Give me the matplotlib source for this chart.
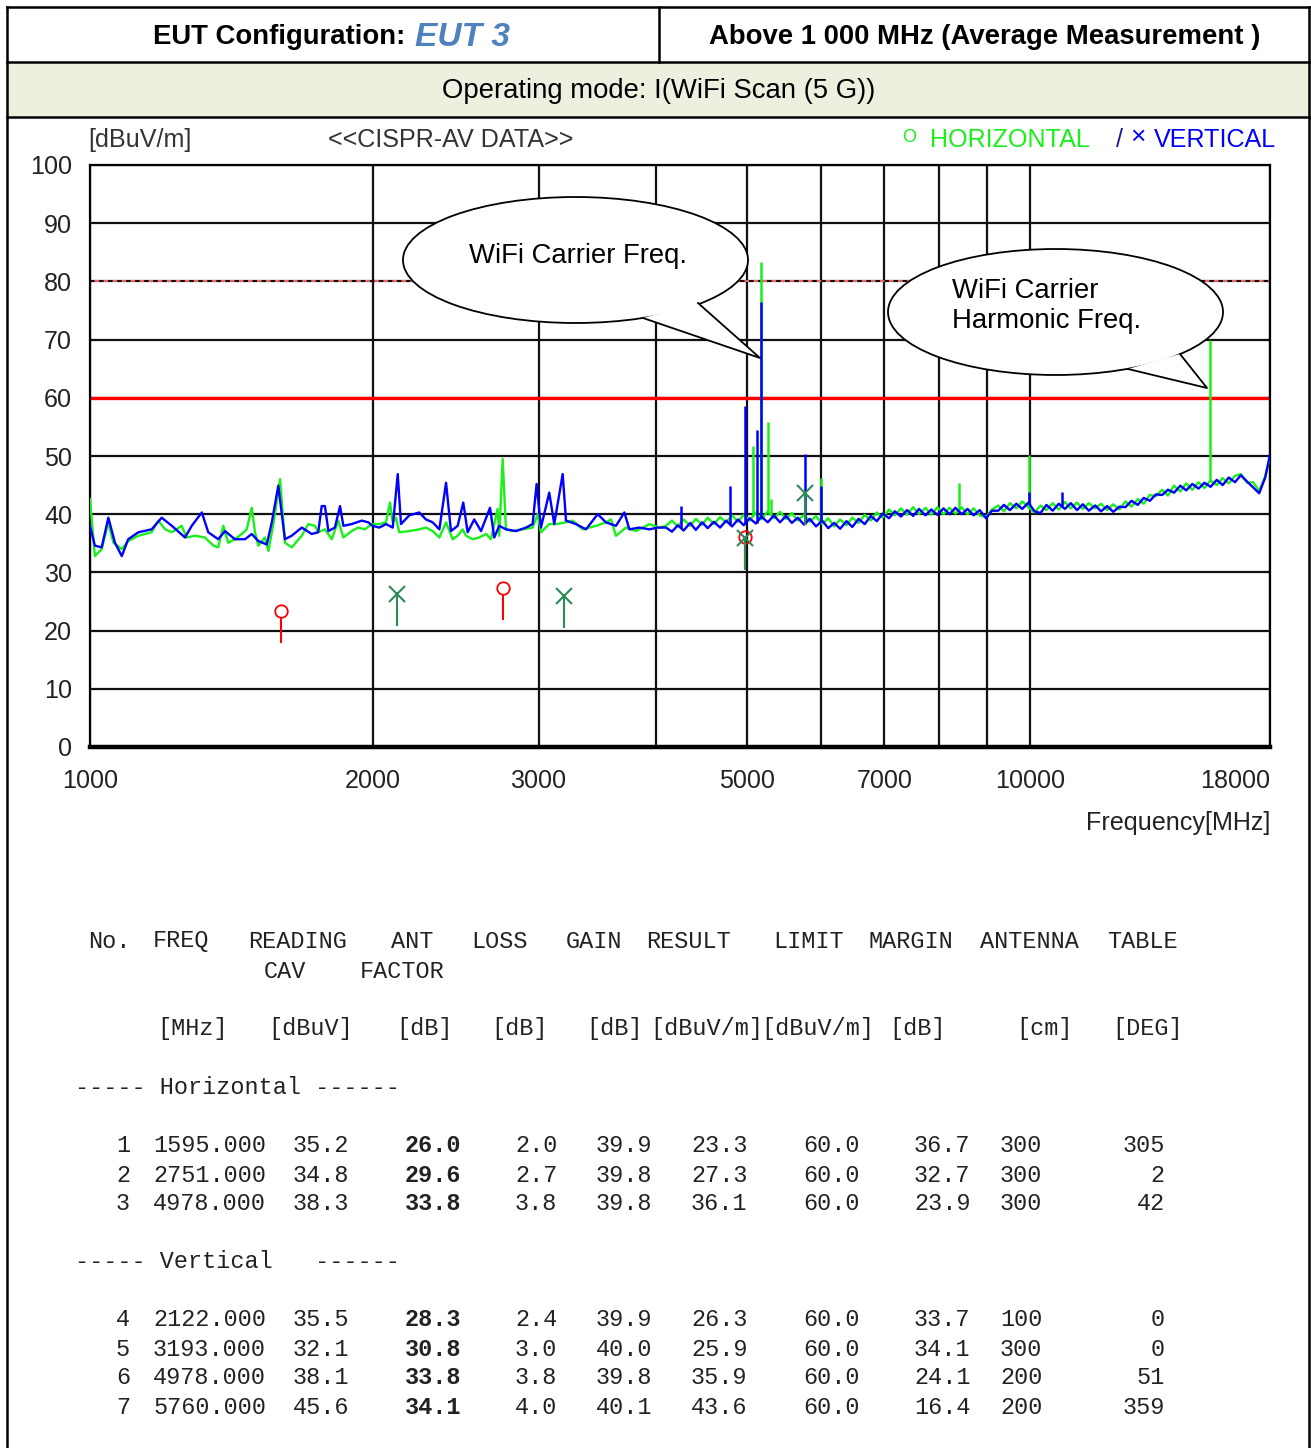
import numpy as np
import matplotlib
matplotlib.use("Agg")
import matplotlib.pyplot as plt
from matplotlib import font_manager
from matplotlib.patches import Ellipse, Polygon, Rectangle
from matplotlib.lines import Line2D
from matplotlib.ticker import FixedLocator, NullFormatter

W, H = 1311, 1448

# --- sweep traces (MHz / dBuV/m) ---
# horizontal (green), 1 - 4.1 GHz
h_freq = [1000, 1012, 1029, 1046, 1059, 1081, 1098, 1126, 1163, 1182, 1202, 1222, 1252, 1267, 1293,
          1325, 1353, 1369, 1386, 1403, 1426, 1450, 1468, 1486, 1498, 1510, 1535, 1548, 1567, 1593,
          1612, 1639, 1680, 1707, 1735, 1749, 1778, 1808, 1837, 1860, 1898, 1929, 1961, 1994, 2031,
          2065, 2085, 2099, 2116, 2133, 2186, 2240, 2277, 2315, 2353, 2392, 2431, 2461, 2491, 2512,
          2553, 2595, 2638, 2670, 2714, 2725, 2748, 2770, 2816, 2886, 2957, 2994, 3018, 3080, 3131,
          3209, 3262, 3343, 3454, 3539, 3583, 3627, 3717, 3809, 3936, 4033, 4100]
h_level = [42.6, 32.8, 34.0, 38.6, 35.1, 34.0, 35.4, 36.3, 36.9, 38.9, 37.4, 36.9, 38.0, 36.0, 36.3,
           36.0, 34.6, 34.3, 38.0, 35.1, 35.7, 36.6, 37.4, 41.1, 36.9, 34.6, 36.0, 33.7, 38.3, 46.0,
           35.1, 34.3, 36.3, 38.3, 38.0, 36.9, 37.4, 35.7, 38.9, 36.0, 37.1, 37.7, 37.4, 38.3, 38.3,
           38.6, 42.0, 38.6, 39.4, 36.9, 37.1, 37.4, 37.7, 37.1, 36.0, 38.6, 35.7, 36.3, 37.4, 36.3,
           35.7, 36.0, 36.6, 35.7, 40.9, 36.3, 49.5, 37.4, 37.1, 37.4, 37.7, 40.0, 36.9, 38.3, 38.3,
           38.6, 38.9, 37.4, 38.0, 38.6, 39.1, 36.3, 37.7, 37.1, 38.3, 37.7, 38.0]

# vertical (blue), 1 - 4.1 GHz
v_freq = [1000, 1012, 1029, 1046, 1063, 1081, 1098, 1126, 1163, 1192, 1222, 1262, 1283, 1315, 1336,
          1369, 1392, 1426, 1462, 1486, 1510, 1542, 1561, 1586, 1612, 1639, 1680, 1721, 1749, 1764,
          1778, 1793, 1822, 1845, 1860, 1898, 1946, 1977, 1998, 2031, 2065, 2099, 2125, 2142, 2186,
          2240, 2277, 2315, 2353, 2392, 2421, 2461, 2495, 2522, 2563, 2606, 2664, 2692, 2725, 2770,
          2839, 2909, 2957, 2986, 3018, 3080, 3118, 3183, 3209, 3288, 3370, 3468, 3539, 3627, 3702,
          3748, 3841, 3936, 4017, 4100]
v_level = [38.0, 34.6, 34.3, 39.4, 35.1, 32.8, 35.7, 36.9, 37.4, 39.4, 38.0, 36.0, 38.0, 40.3, 36.9,
           35.7, 37.1, 35.7, 35.7, 36.6, 35.4, 34.8, 38.6, 44.9, 35.7, 36.3, 37.7, 36.6, 36.9, 41.4,
           41.4, 37.1, 37.7, 41.4, 38.0, 38.3, 38.9, 38.6, 38.0, 37.7, 38.3, 37.7, 46.9, 38.3, 39.8,
           40.3, 39.1, 38.6, 37.4, 45.4, 37.1, 38.0, 42.0, 36.9, 39.1, 37.1, 41.1, 36.0, 38.0, 37.4,
           37.1, 37.7, 38.3, 45.2, 37.7, 43.7, 38.3, 46.9, 38.9, 38.3, 37.4, 40.0, 38.6, 38.0, 40.3,
           37.4, 37.7, 37.4, 37.7, 37.7]

# 4.1 - 18 GHz, both polarisations on the same frequency points
hf_freq = [4160, 4220, 4280, 4350, 4410, 4480, 4540, 4610, 4680, 4750, 4820, 4890, 4960, 5030, 5110,
           5180, 5260, 5340, 5420, 5500, 5580, 5660, 5750, 5830, 5920, 6010, 6100, 6190, 6280, 6380,
           6470, 6570, 6670, 6770, 6870, 6970, 7080, 7180, 7290, 7400, 7510, 7620, 7740, 7850, 7970,
           8090, 8210, 8330, 8460, 8580, 8710, 8840, 8980, 9110, 9250, 9380, 9520, 9670, 9810, 9960,
           10110, 10260, 10410, 10570, 10730, 10890, 11050, 11220, 11380, 11550, 11730, 11900, 12080,
           12260, 12450, 12630, 12820, 13020, 13210, 13410, 13610, 13820, 14020, 14230, 14450, 14660,
           14880, 15110, 15330, 15560, 15800, 16030, 16270, 16520, 16760, 17020, 17270, 17530, 17790,
           18000]
hf_h = [38.9, 37.9, 39.1, 38.0, 39.2, 38.2, 39.4, 38.3, 39.5, 38.6, 39.8, 38.7, 39.9, 38.9, 40.3,
        39.1, 40.5, 39.3, 40.4, 39.2, 40.2, 38.9, 39.9, 38.7, 39.7, 38.3, 39.3, 37.9, 39.1, 38.1,
        39.4, 38.5, 39.9, 38.9, 40.3, 39.4, 40.8, 39.8, 41.0, 39.9, 41.2, 40.0, 41.1, 39.9, 41.2,
        40.0, 41.1, 40.1, 41.2, 40.0, 41.0, 39.8, 39.5, 40.8, 41.5, 40.5, 41.9, 41.0, 42.2, 41.2,
        40.3, 41.5, 40.7, 41.9, 40.8, 42.1, 41.0, 42.0, 40.9, 41.9, 41.0, 41.8, 40.7, 41.7, 40.8,
        42.2, 41.3, 42.6, 41.8, 43.3, 43.1, 44.2, 43.2, 44.9, 43.9, 45.3, 44.2, 45.5, 44.5, 45.8,
        45.0, 46.2, 45.3, 46.6, 46.9, 45.4, 45.5, 44.0, 46.5, 49.8]
hf_v = [37.0, 38.1, 37.2, 38.5, 37.3, 38.6, 37.6, 38.7, 37.7, 38.9, 37.9, 39.1, 38.1, 39.3, 38.4,
        39.6, 38.6, 39.8, 38.6, 39.7, 38.5, 39.4, 38.2, 39.2, 37.9, 38.9, 37.6, 38.5, 37.5, 38.8,
        37.8, 39.2, 38.3, 39.7, 38.8, 40.1, 39.3, 40.5, 39.6, 40.7, 39.7, 40.9, 39.8, 40.8, 39.9,
        41.0, 40.0, 41.1, 40.0, 40.9, 39.8, 40.7, 39.3, 40.6, 40.6, 41.6, 40.7, 41.8, 40.9, 42.0,
        40.5, 40.2, 41.6, 40.6, 41.8, 40.9, 41.9, 40.7, 41.7, 40.6, 41.5, 40.5, 41.4, 40.4, 41.3,
        41.2, 42.3, 41.6, 42.8, 42.3, 43.4, 43.3, 44.2, 43.7, 44.9, 44.1, 45.2, 44.4, 45.4, 44.7,
        45.9, 45.0, 46.3, 45.5, 46.7, 45.6, 44.6, 43.6, 46.3, 50.2]

# narrow spikes above 4.1 GHz (carrier, its neighbours, harmonics)
h_spike_freq = [5077, 5170, 5262, 5306, 6000, 8399, 9976, 15546]
h_spike_level = [51.7, 83.3, 55.8, 42.6, 46.3, 45.3, 50.2, 70.0]
v_spike_freq = [4249, 4792, 4970, 5118, 5170, 5757, 5997, 9976, 10817]
v_spike_level = [41.4, 44.9, 58.6, 54.5, 76.5, 50.3, 44.9, 43.9, 43.9]

# --- final measurement table ---
meas_no = [1, 2, 3, 4, 5, 6, 7]
meas_pol = ["H", "H", "H", "V", "V", "V", "V"]
meas_freq = [1595.0, 2751.0, 4978.0, 2122.0, 3193.0, 4978.0, 5760.0]
reading_cav = [35.2, 34.8, 38.3, 35.5, 32.1, 38.1, 45.6]
ant_factor = [26.0, 29.6, 33.8, 28.3, 30.8, 33.8, 34.1]
loss = [2.0, 2.7, 3.8, 2.4, 3.0, 3.8, 4.0]
gain = [39.9, 39.8, 39.8, 39.9, 40.0, 39.8, 40.1]
result = [23.3, 27.3, 36.1, 26.3, 25.9, 35.9, 43.6]
limit = [60.0, 60.0, 60.0, 60.0, 60.0, 60.0, 60.0]
margin = [36.7, 32.7, 23.9, 33.7, 34.1, 24.1, 16.4]
antenna_cm = [300, 300, 300, 100, 300, 200, 200]
table_deg = [305, 2, 42, 0, 0, 51, 359]

x_labels = [1000, 2000, 3000, 5000, 7000, 10000, 18000]
x_grid = [2000, 3000, 4000, 5000, 6000, 7000, 8000, 9000, 10000]
y_ticks = [0, 10, 20, 30, 40, 50, 60, 70, 80, 90, 100]
limit_av = 60
limit_pk = 80

GREEN = "#19f019"
BLUE = "#0000ff"
DKGREEN = "#2e8b57"

names = {f.name for f in font_manager.fontManager.ttflist}
if "Liberation Sans Narrow" in names:
    SANS, K = "Liberation Sans Narrow", 1.0
else:
    SANS, K = "Liberation Sans", 0.86
MONO = "Liberation Mono"


def fx(x):
    return x / W


def fy(y):
    return 1 - y / H


fig = plt.figure(figsize=(W / 100, H / 100), dpi=100, facecolor="white")

# --- header table ---
fig.add_artist(Rectangle((fx(7), fy(117)), (1310 - 7) / W, 55 / H, transform=fig.transFigure,
                         fc="#ebf1de", ec="none", zorder=0))
for (x0, y0, x1, y1) in [(7, 7, 1310, 7), (7, 62, 1310, 62), (7, 117, 1310, 117),
                         (7, 7, 7, 1448), (1309, 7, 1309, 1448), (659, 7, 659, 62)]:
    fig.add_artist(Line2D([fx(x0), fx(x1)], [fy(y0), fy(y1)], transform=fig.transFigure,
                          color="black", lw=1.8, zorder=1))

fig.text(fx(405), fy(37), "EUT Configuration:", ha="right", va="center",
         family=SANS, weight="bold", size=23 * K)
fig.text(fx(415), fy(37), "EUT 3", ha="left", va="center", family=SANS, weight="bold",
         style="italic", size=28 * K, color="#4f81bd")
fig.text(fx(985), fy(37), "Above 1 000 MHz (Average Measurement )", ha="center", va="center",
         family=SANS, weight="bold", size=23 * K)
fig.text(fx(659), fy(91), "Operating mode: I(WiFi Scan (5 G))", ha="center", va="center",
         family=SANS, size=23 * K)

# --- chart ---
ax = fig.add_axes([fx(90), fy(747), 1180 / W, 582 / H])
ax.set_xscale("log")
ax.set_xlim(1000, 18000)
ax.set_ylim(0, 100)

ax.xaxis.set_major_locator(FixedLocator(x_labels))
ax.xaxis.set_minor_locator(FixedLocator(x_grid))
ax.xaxis.set_minor_formatter(NullFormatter())
ax.set_xticklabels([str(v) for v in x_labels])
ax.set_yticks(y_ticks)
ax.set_yticklabels([str(v) for v in y_ticks])
ax.tick_params(which="both", length=0)
ax.tick_params(axis="x", pad=16)
ax.tick_params(axis="y", pad=13)
for lab in ax.get_xticklabels() + ax.get_yticklabels():
    lab.set_family(SANS)
    lab.set_size(21 * K)
    lab.set_color("#222222")
ax.get_xticklabels()[-1].set_horizontalalignment("right")

ax.grid(axis="y", which="major", color="#111111", lw=1.6, zorder=1)
ax.grid(axis="x", which="both", color="#111111", lw=1.6, zorder=1)
ax.set_axisbelow(True)
for side in ["left", "top", "right"]:
    ax.spines[side].set_linewidth(1.6)
ax.spines["bottom"].set_linewidth(3.2)

ax.axhline(limit_pk, color="#ff7070", lw=1.3, zorder=2)
ax.axhline(limit_pk, color="black", lw=1.3, ls=(0, (2.5, 2.5)), zorder=2.1)
ax.axhline(limit_av, color="red", lw=2.4, zorder=2.2)

g_f = np.array(h_freq + hf_freq, dtype=float)
g_l = np.array(h_level + hf_h, dtype=float)
b_f = np.array(v_freq + hf_freq, dtype=float)
b_l = np.array(v_level + hf_v, dtype=float)

ax.plot(g_f, g_l, color=GREEN, lw=1.7, zorder=3)
g_base = np.interp(np.log(h_spike_freq), np.log(g_f), g_l)
ax.vlines(h_spike_freq, g_base, h_spike_level, color=GREEN, lw=1.8, zorder=3)

ax.plot(b_f, b_l, color=BLUE, lw=1.7, zorder=4)
b_base = np.interp(np.log(v_spike_freq), np.log(b_f), b_l)
ax.vlines(v_spike_freq, b_base, v_spike_level, color=BLUE, lw=1.8, zorder=4)

# final measurement markers
for f, r, p in zip(meas_freq, result, meas_pol):
    if p == "H":
        ax.vlines(f, r - 5.5, r - 1.0, color="red", lw=1.5, zorder=6)
        ax.plot(f, r, "o", mfc="none", mec="red", ms=9, mew=1.3, zorder=6)
    else:
        ax.vlines(f, r - 5.5, r, color=DKGREEN, lw=1.5, zorder=6)
        ax.plot(f, r, "x", color=DKGREEN, ms=11, mew=1.5, zorder=6)

# chart header texts
fig.text(fx(88), fy(140), "[dBuV/m]", ha="left", va="center", family=SANS, size=21 * K,
         color="#333333")
fig.text(fx(328), fy(140), "<<CISPR-AV DATA>>", ha="left", va="center", family=SANS,
         size=21 * K, color="#333333")
fig.text(fx(902), fy(137), "O", ha="left", va="center", family=SANS, size=13, color=GREEN)
fig.text(fx(930), fy(140), "HORIZONTAL", ha="left", va="center", family=SANS, size=21 * K,
         color=GREEN)
fig.text(fx(1116), fy(140), "/", ha="left", va="center", family=SANS, size=21 * K,
         color="#1a1aa0")
fig.text(fx(1130), fy(137), "\u00d7", ha="left", va="center", family=SANS, size=19,
         color=BLUE)
fig.text(fx(1154), fy(140), "VERTICAL", ha="left", va="center", family=SANS, size=21 * K,
         color=BLUE)
fig.text(fx(1270), fy(823), "Frequency[MHz]", ha="right", va="center", family=SANS,
         size=21 * K, color="#222222")

# callouts
for (cx, cy, w, h, tail, lines) in [
        (575.5, 260, 345, 126, [(643, 318), (760, 358), (698, 303)],
         [(469, 256, "WiFi Carrier Freq.")]),
        (1055.5, 312, 335, 126, [(1128, 369), (1207, 388), (1180, 354)],
         [(952, 291, "WiFi Carrier"), (952, 321, "Harmonic Freq.")])]:
    fig.add_artist(Ellipse((fx(cx), fy(cy)), w / W, h / H, transform=fig.transFigure,
                           fc="white", ec="black", lw=1.3, zorder=5))
    pts = [(fx(a), fy(b)) for a, b in tail]
    fig.add_artist(Polygon(pts, closed=True, transform=fig.transFigure, fc="white",
                           ec="none", zorder=6))
    fig.add_artist(Line2D([p[0] for p in pts], [p[1] for p in pts], transform=fig.transFigure,
                          color="black", lw=1.3, zorder=7))
    for tx, ty, s in lines:
        fig.text(fx(tx), fy(ty), s, ha="left", va="center", family=SANS, size=23 * K,
                 zorder=8)

# --- measurement table ---
TXT = dict(family=MONO, size=16.9, color="#222222", va="center")
for s, x in [("No.", 88), ("FREQ", 153), ("READING", 248), ("ANT", 391), ("LOSS", 471),
             ("GAIN", 566), ("RESULT", 646), ("LIMIT", 773), ("MARGIN", 868),
             ("ANTENNA", 980), ("TABLE", 1107)]:
    fig.text(fx(x), fy(941), s, ha="left", **TXT)
fig.text(fx(264), fy(971), "CAV", ha="left", **TXT)
fig.text(fx(360), fy(971), "FACTOR", ha="left", **TXT)
for s, x in [("[MHz]", 157), ("[dBuV]", 268), ("[dB]", 396), ("[dB]", 491), ("[dB]", 586),
             ("[dBuV/m]", 650), ("[dBuV/m]", 761), ("[dB]", 889), ("[cm]", 1016),
             ("[DEG]", 1112)]:
    fig.text(fx(x), fy(1029), s, ha="left", **TXT)
fig.text(fx(75), fy(1087), "----- Horizontal ------", ha="left", **TXT)
fig.text(fx(75), fy(1262), "----- Vertical   ------", ha="left", **TXT)

row_y = {"H": [1146, 1175, 1204], "V": [1320, 1349, 1378, 1407]}
count = {"H": 0, "V": 0}
for i in range(len(meas_no)):
    p = meas_pol[i]
    y = fy(row_y[p][count[p]])
    count[p] += 1
    fig.text(fx(130), y, str(meas_no[i]), ha="right", **TXT)
    fig.text(fx(153), y, f"{meas_freq[i]:.3f}", ha="left", **TXT)
    fig.text(fx(293), y, f"{reading_cav[i]:.1f}", ha="left", **TXT)
    fig.text(fx(405), y, f"{ant_factor[i]:.1f}", ha="left", weight="bold", **TXT)
    fig.text(fx(515), y, f"{loss[i]:.1f}", ha="left", **TXT)
    fig.text(fx(596), y, f"{gain[i]:.1f}", ha="left", **TXT)
    fig.text(fx(691), y, f"{result[i]:.1f}", ha="left", **TXT)
    fig.text(fx(803), y, f"{limit[i]:.1f}", ha="left", **TXT)
    fig.text(fx(914), y, f"{margin[i]:.1f}", ha="left", **TXT)
    fig.text(fx(1000), y, str(antenna_cm[i]), ha="left", **TXT)
    fig.text(fx(1165), y, str(table_deg[i]), ha="right", **TXT)

fig.savefig("out.png", dpi=100, facecolor="white")
